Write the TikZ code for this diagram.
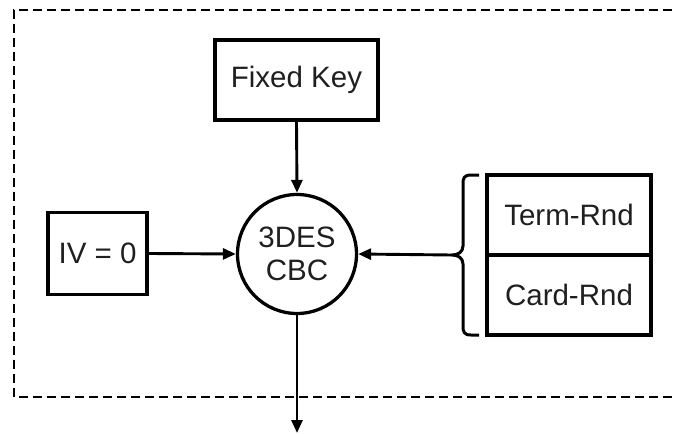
\documentclass[tikz,border=0pt]{standalone}
\usepackage{fontspec}
\setmainfont{Liberation Sans}
\usetikzlibrary{arrows.meta}
\begin{document}
\begin{tikzpicture}[x=1pt,y=-1pt,
  box/.style={draw=black, line width=3.3pt, minimum width=#1, inner sep=0pt,
    font=\fontsize{29.5}{33}\selectfont, text=black!88},
  roundbox/.style={draw=black, line width=3.3pt, circle, minimum size=119pt, inner sep=0pt,
    align=center, font=\fontsize{29.5}{33}\selectfont, text=black!88},
  conn/.style={line width=2.9pt, -{Triangle[length=13pt,width=11pt]}},
  frame/.style={line width=2.9pt, dash pattern=on 9pt off 5pt},
  bracket/.style={line width=3pt, line join=round}]
\useasboundingbox (0,0) rectangle (673,434);
\begin{scope}
  \clip (0,0) rectangle (673,434);
  \draw[frame] (700,10) -- (14,10) -- (14,397) -- (700,397);
\end{scope}

\node[box=163pt, minimum height=80pt] (key) at (296.5,80) {Fixed Key};
\node[roundbox] (des) at (297,254) {3DES\\CBC};
\node[box=99pt, minimum height=82pt] (iv) at (97.5,253.5) {IV = 0};
\node[box=164pt, minimum height=80pt] (term) at (569,215) {Term-Rnd};
\node[box=164pt, minimum height=80pt] (card) at (569,295) {Card-Rnd};

% curly bracket grouping the two random values
\coordinate (tip) at (452,255);
\draw[bracket] (479,175) -- (471,175) .. controls (464,175) and (463,178) .. (463,184)
  -- (463,246) .. controls (463,252) and (458,255) .. (tip)
  .. controls (458,255) and (463,258) .. (463,264)
  -- (463,326) .. controls (463,332) and (464,335) .. (471,335) -- (479,335);

\coordinate (out) at (297,433);
\draw[conn] (key.south) -- (des.north);
\draw[conn] (iv.east) -- (des.west);
\draw[conn] (tip) -- (des.east);
\draw[conn] (des.south) -- (out);
\end{tikzpicture}
\end{document}
